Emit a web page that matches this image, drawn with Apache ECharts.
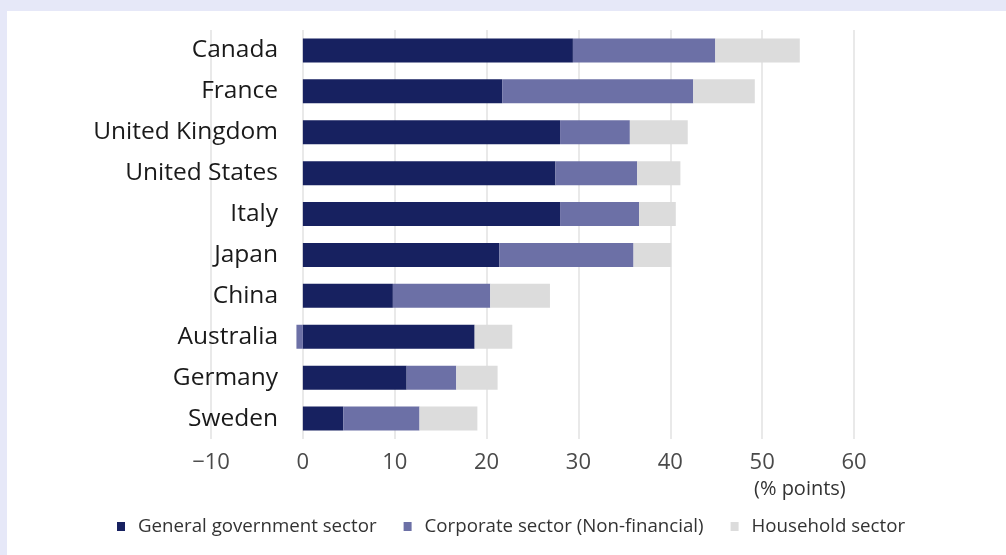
<!DOCTYPE html>
<html>
<head>
<meta charset="utf-8">
<script src="https://cdn.jsdelivr.net/npm/echarts@6/dist/echarts.min.js"></script>
<style>
  html, body { margin: 0; padding: 0; background: #e6e8f8; width: 1006px; height: 555px; overflow: hidden; }
  #chart { position: absolute; left: 7px; top: 11px; width: 999px; height: 544px; background: #ffffff; }
</style>
</head>
<body>
<div id="chart"></div>
<script>
// Countries, top to bottom
const countries = ['Canada', 'France', 'United Kingdom', 'United States', 'Italy',
                   'Japan', 'China', 'Australia', 'Germany', 'Sweden'];
// Contribution by sector (% points)
const generalGovernment = [29.4, 21.7, 28.0, 27.5, 28.0, 21.4, 9.8, 18.7, 11.3, 4.4];
const corporate = [15.5, 20.8, 7.6, 8.9, 8.6, 14.6, 10.6, -0.7, 5.4, 8.3];
const household = [9.2, 6.7, 6.3, 4.7, 4.0, 4.1, 6.5, 4.1, 4.5, 6.3];
const seriesNames = ['General government sector', 'Corporate sector (Non-financial)', 'Household sector'];
const seriesColors = ['#172160', '#6c70a6', '#dcdcdc'];
const xTicks = { min: -10, max: 60, step: 10 };
const unitLabel = '(% points)';

const fontFamily = '"Open Sans", "Noto Sans", sans-serif';
const chart = echarts.init(document.getElementById('chart'));

const values = [generalGovernment, corporate, household];
const series = seriesNames.map((name, i) => ({
  name: name,
  type: 'bar',
  stack: 'total',
  data: values[i],
  barWidth: 24,
  itemStyle: { color: seriesColors[i] },
  emphasis: { disabled: true }
}));

chart.setOption({
  animation: false,
  textStyle: { fontFamily: fontFamily },
  grid: { left: 204, right: 152, top: 19, bottom: 116 },
  xAxis: {
    type: 'value',
    min: xTicks.min,
    max: xTicks.max,
    interval: xTicks.step,
    axisLine: { show: false },
    axisTick: { show: false },
    splitLine: { lineStyle: { color: '#e2e2e2', width: 1.5 } },
    axisLabel: {
      color: '#4a4a4a',
      fontSize: 22,
      margin: 13,
      fontFamily: fontFamily,
      formatter: v => (v < 0 ? '\u2212' + Math.abs(v) : String(v))
    }
  },
  yAxis: {
    type: 'category',
    data: countries,
    inverse: true,
    axisLine: { show: false },
    axisTick: { show: false },
    splitLine: { show: false },
    axisLabel: {
      color: '#1a1a1a',
      fontSize: 24.5,
      // labels sit just left of the zero line, over the negative range
      margin: -67,
      fontFamily: fontFamily
    }
  },
  legend: {
    data: seriesNames,
    left: 105,
    top: 501,
    icon: 'rect',
    itemWidth: 8,
    itemHeight: 9,
    itemGap: 27,
    textStyle: { color: '#333333', fontSize: 18.7, fontFamily: fontFamily, padding: [0, 0, 0, 8] }
  },
  graphic: [{
    type: 'text',
    left: 747,
    top: 468,
    style: { text: unitLabel, fill: '#333333', font: '20px ' + fontFamily }
  }],
  series: series
});
</script>
</body>
</html>
